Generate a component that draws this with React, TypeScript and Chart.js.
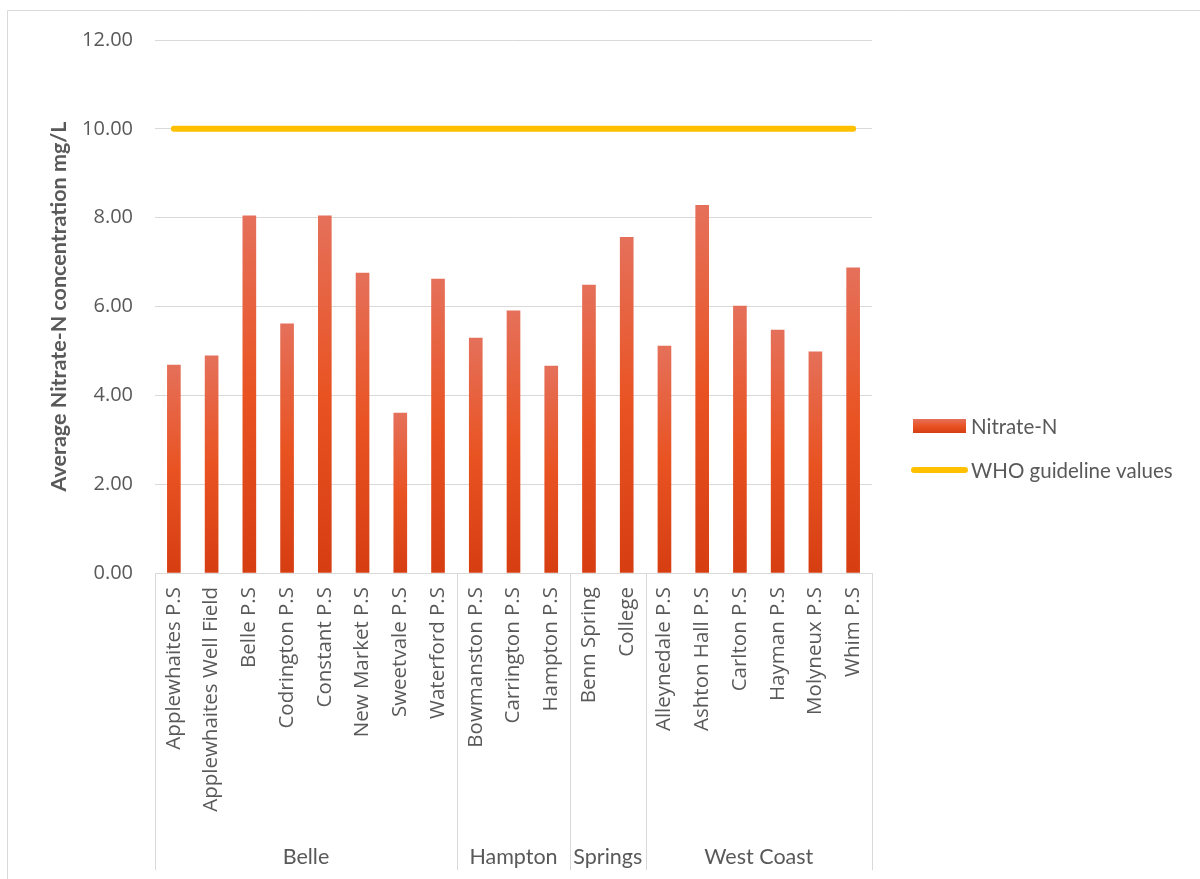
import React, { useEffect, useRef } from "react";
import { Chart, registerables } from "chart.js";

Chart.register(...registerables);

const stations = [
  "Applewhaites P.S",
  "Applewhaites Well Field",
  "Belle P.S",
  "Codrington P.S",
  "Constant P.S",
  "New Market P.S",
  "Sweetvale P.S",
  "Waterford P.S",
  "Bowmanston P.S",
  "Carrington P.S",
  "Hampton P.S",
  "Benn Spring",
  "College",
  "Alleynedale P.S",
  "Ashton Hall P.S",
  "Carlton P.S",
  "Hayman P.S",
  "Molyneux P.S",
  "Whim P.S",
];

const groupNames = ["Belle", "Hampton", "Springs", "West Coast"];
const groupSizes = [8, 3, 2, 6];

const nitrateValues = [
  4.68, 4.89, 8.04, 5.61, 8.04, 6.75, 3.6, 6.62, 5.29, 5.9, 4.66, 6.48, 7.56,
  5.11, 8.28, 6.01, 5.47, 4.98, 6.87,
];

const whoValues = [
  10, 10, 10, 10, 10, 10, 10, 10, 10, 10, 10, 10, 10, 10, 10, 10, 10, 10, 10,
];

const yTicks = { min: 0, max: 12, step: 2 };

const TEXT = "#595959";
const GRID = "#d9d9d9";
const SANS = "'Open Sans', sans-serif";
const CAL = "Lato, 'Open Sans', sans-serif";

function barGradient(ctx: CanvasRenderingContext2D, top: number, bottom: number) {
  const g = ctx.createLinearGradient(0, top, 0, bottom);
  g.addColorStop(0, "#E5705A");
  g.addColorStop(0.5, "#E95322");
  g.addColorStop(1, "#D63E12");
  return g;
}

const decorPlugin = {
  id: "decor",
  afterDraw(chart: any) {
    const ctx: CanvasRenderingContext2D = chart.ctx;
    const xs = chart.scales.x;
    const n = stations.length;
    const step = (xs.right - xs.left) / n;
    ctx.save();
    // chart border
    ctx.strokeStyle = GRID;
    ctx.lineWidth = 1;
    ctx.beginPath();
    ctx.moveTo(7.5, chart.height);
    ctx.lineTo(7.5, 10.5);
    ctx.lineTo(chart.width, 10.5);
    ctx.stroke();

    // group separators and labels
    const bottomY = 870;
    let idx = 0;
    const bounds = [0];
    groupSizes.forEach((s) => {
      idx += s;
      bounds.push(idx);
    });
    ctx.beginPath();
    bounds.forEach((b) => {
      const x = Math.round(xs.left + b * step) + 0.5;
      ctx.moveTo(x, xs.top);
      ctx.lineTo(x, bottomY);
    });
    ctx.stroke();

    ctx.fillStyle = TEXT;
    ctx.font = `21.5px ${CAL}`;
    ctx.textAlign = "center";
    ctx.textBaseline = "middle";
    groupNames.forEach((g, i) => {
      const cx = xs.left + ((bounds[i] + bounds[i + 1]) / 2) * step;
      ctx.fillText(g, cx, 857);
    });

    // legend
    ctx.fillStyle = barGradient(ctx, 419, 433);
    ctx.fillRect(913, 419, 53, 14);
    ctx.strokeStyle = "#FFC000";
    ctx.lineWidth = 6;
    ctx.lineCap = "round";
    ctx.beginPath();
    ctx.moveTo(914, 470);
    ctx.lineTo(965, 470);
    ctx.stroke();
    ctx.fillStyle = TEXT;
    ctx.textAlign = "left";
    ctx.textBaseline = "middle";
    ctx.font = `20.5px ${CAL}`;
    ctx.fillText("Nitrate-N", 971, 427);
    ctx.fillText("WHO guideline values", 971, 471);
    ctx.restore();
  },
};

export default function App() {
  const ref = useRef<HTMLCanvasElement>(null);
  useEffect(() => {
    document.body.style.margin = "0";
    const chart = new Chart(ref.current as HTMLCanvasElement, {
      type: "bar",
      data: {
        labels: stations,
        datasets: [
          {
            type: "line",
            label: "WHO guideline values",
            data: whoValues,
            borderColor: "#FFC000",
            backgroundColor: "#FFC000",
            borderWidth: 6,
            borderCapStyle: "round",
            pointRadius: 0,
            order: 1,
          } as any,
          {
            type: "bar",
            label: "Nitrate-N",
            data: nitrateValues,
            barThickness: 13,
            order: 2,
            backgroundColor: (c: any) => {
              const ch = c.chart;
              const y = ch.scales && ch.scales.y;
              if (c.type !== "data" || !y) return "#E95322";
              const top = y.getPixelForValue(c.raw);
              const base = y.getPixelForValue(0);
              if (!isFinite(top) || !isFinite(base) || top === base) return "#E95322";
              return barGradient(ch.ctx, top, base);
            },
          } as any,
        ],
      },
      options: {
        animation: false,
        responsive: false,
        layout: { padding: { left: 0, top: 40, right: 328, bottom: 0 } },
        plugins: { legend: { display: false }, tooltip: { enabled: false } },
        scales: {
          x: {
            grid: { display: false, drawTicks: false },
            border: { display: true, color: GRID, width: 1 },
            ticks: {
              autoSkip: false,
              minRotation: 90,
              maxRotation: 90,
              padding: 14,
              color: TEXT,
              font: { family: SANS, size: 20.5 },
            },
            afterFit: (s: any) => {
              s.height = 306;
            },
          },
          y: {
            min: yTicks.min,
            max: yTicks.max,
            grid: { color: GRID, lineWidth: 1, drawTicks: false },
            border: { display: false },
            ticks: {
              stepSize: yTicks.step,
              padding: 22,
              color: TEXT,
              font: { family: SANS, size: 20 },
              callback: (v: any) => Number(v).toFixed(2),
            },
            title: {
              display: true,
              text: "Average Nitrate-N concentration mg/L",
              color: TEXT,
              font: { family: CAL, size: 21.5, weight: "bold" },
              padding: { top: 46, bottom: 0 },
            },
            afterFit: (s: any) => {
              s.width = 155;
            },
          },
        },
      },
      plugins: [decorPlugin],
    });
    return () => chart.destroy();
  }, []);
  return (
    <div style={{ position: "absolute", left: 0, top: 0, width: 1200, height: 879 }}>
      <canvas ref={ref} width={1200} height={879} style={{ display: "block" }} />
    </div>
  );
}
